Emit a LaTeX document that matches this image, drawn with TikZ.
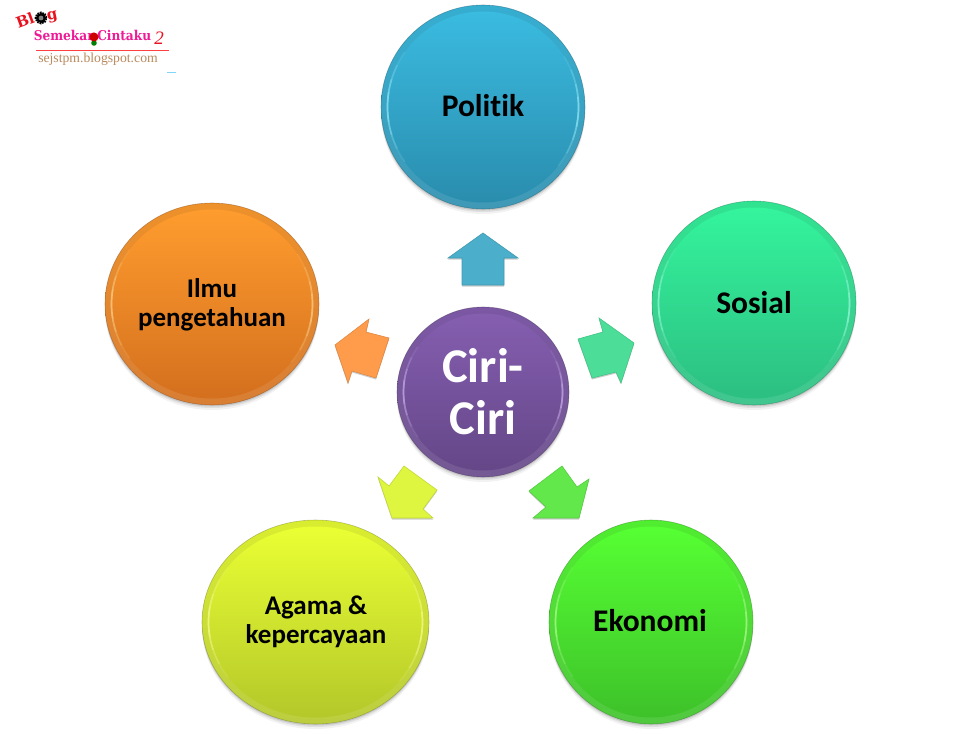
\documentclass[tikz,border=0pt]{standalone}
\usepackage{graphicx}
\usepackage{fontspec}
\setmainfont[Ligatures=NoCommon]{Carlito}
\newfontfamily\logoserif{Liberation Serif}
\newfontfamily\logobold{DejaVu Serif}
\definecolor{cBlueT}{HTML}{3ABBE0}\definecolor{cBlueB}{HTML}{2A8DAE}\definecolor{cBlueH}{HTML}{9CF2FF}\definecolor{cBlueA}{HTML}{4BAFCB}
\definecolor{cTealT}{HTML}{34F49C}\definecolor{cTealB}{HTML}{2CBF82}\definecolor{cTealH}{HTML}{A0FFE0}\definecolor{cTealA}{HTML}{4CDE98}
\definecolor{cGrnT}{HTML}{56FF33}\definecolor{cGrnB}{HTML}{3EC22A}\definecolor{cGrnH}{HTML}{B8FF98}\definecolor{cGrnA}{HTML}{62E84A}
\definecolor{cYelT}{HTML}{EAFF33}\definecolor{cYelB}{HTML}{B4C82A}\definecolor{cYelH}{HTML}{FBFF98}\definecolor{cYelA}{HTML}{DEF63F}
\definecolor{cOrT}{HTML}{FF9C2E}\definecolor{cOrB}{HTML}{D4701E}\definecolor{cOrH}{HTML}{FFD894}\definecolor{cOrA}{HTML}{FF9C4B}
\definecolor{cPuT}{HTML}{855EB0}\definecolor{cPuB}{HTML}{654788}\definecolor{cPuH}{HTML}{D0B8F4}
\definecolor{logored}{HTML}{E8121E}\definecolor{logopink}{HTML}{EE1A96}\definecolor{logotan}{HTML}{B98A5E}
\tikzset{
  labeltext/.style={font=\bfseries\fontsize{31.5}{36}\selectfont,text=black,align=center,inner sep=0pt},
  smalllabel/.style={font=\bfseries\fontsize{27}{29.5}\selectfont,text=black,align=center,inner sep=0pt},
  bigtext/.style={font=\bfseries\fontsize{48.5}{52}\selectfont,text=white,align=center,inner sep=0pt},
  blockshadow/.style={fill=black,opacity=.2},
}
% #1 cx #2 cy #3 rx #4 ry #5 colour prefix
\newcommand{\bubble}[5]{%
  \fill[black,opacity=.05] (#1,#2+5) ellipse [x radius=#3pt,y radius=#4pt];
  \fill[black,opacity=.08] (#1,#2+3) ellipse [x radius=#3pt,y radius=#4pt];
  \fill[black,opacity=.10] (#1,#2+1.5) ellipse [x radius=#3pt,y radius=#4pt];
  \shade[top color=#5T!93!black,bottom color=#5B!90!white] (#1,#2) ellipse [x radius=#3pt,y radius=#4pt];
  \draw[#5B!55!black,opacity=.4,line width=.6pt] (#1,#2) ellipse [x radius=#3pt,y radius=#4pt];
  \pgfmathsetmacro{\innerx}{#3-6.5}\pgfmathsetmacro{\innery}{#4-6.5}
  \shade[top color=#5T,bottom color=#5B] (#1,#2) ellipse [x radius=\innerx pt,y radius=\innery pt];
  \foreach \s/\o in {35/.12,26/.2,17/.28,9/.35}{
    \draw[#5H,opacity=\o,line width=1.7pt]
      ({#1+\innerx*cos(-3+\s)},{#2-\innery*sin(-3+\s)})
      arc [start angle=-3+\s,end angle=-3-\s,x radius=\innerx pt,y radius=\innery pt];
    \draw[#5H,opacity=\o,line width=1.7pt]
      ({#1+\innerx*cos(180-\s)},{#2-\innery*sin(180-\s)})
      arc [start angle=180-\s,end angle=180+\s,x radius=\innerx pt,y radius=\innery pt];
  }
}
% #1 outline coordinates, #2 colour
\newcommand{\blockarrow}[2]{%
  \begin{scope}[shift={(0,1.5)}]\fill[blockshadow] #1 -- cycle;\end{scope}
  \fill[#2,draw=#2!88!black,line width=.6pt,line join=miter] #1 -- cycle;
}
\begin{document}
\begin{tikzpicture}[x=1pt,y=-1pt]
\useasboundingbox (0,0) rectangle (960,733);
\fill[white] (0,0) rectangle (960,733);

% block arrows
\blockarrow{(483,233)--(518,258)--(504,258)--(504,285)--(462,285)--(462,258)--(448,258)}{cBlueA}
\blockarrow{(634,343)--(599,318)--(603,332)--(578,339)--(592,378)--(616,372)--(621,383)}{cTealA}
\blockarrow{(335,345)--(369,319)--(366,332)--(389,338)--(376,378)--(352,371)--(348,383)}{cOrA}
\blockarrow{(529,491)--(562,466)--(577,487)--(589,479)--(579,518)--(533,518)--(546,507)}{cGrnA}
\blockarrow{(378,477)--(389,486)--(404,466)--(437,490)--(423,509)--(433,518)--(392,518)}{cYelA}

% circles
\bubble{483}{107}{102}{102}{cBlue}
\bubble{754}{303}{102}{102}{cTeal}
\bubble{651}{622}{102}{102}{cGrn}
\bubble{315.5}{622}{113.5}{102}{cYel}
\bubble{212}{304}{107}{101}{cOr}
\bubble{483}{392}{86}{85}{cPu}

% labels
\node[labeltext] (politik) at (483,106) {Politik};
\node[labeltext] (sosial) at (754,303) {Sosial};
\node[labeltext] (ekonomi) at (650,621) {Ekonomi};
\node[smalllabel] (agama) at (316,622) {Agama \&\\kepercayaan};
\node[smalllabel] (ilmu) at (212,305) {Ilmu\\pengetahuan};
\node[bigtext] (ciri) at (483,392) {Ciri-\\Ciri};

% blog logo
\node[font=\logobold\bfseries\fontsize{15}{15}\selectfont,text=logored,rotate=20,inner sep=0pt] (logoa) at (25,20.5) {Bl};
\draw[black,line width=2.4pt,dash pattern=on 1.6pt off .9pt] (41,18) circle [radius=5.2pt];
\fill[black] (41,18) circle [radius=5pt];
\fill[gray] (41,18) circle [radius=2.4pt];
\node[font=\logobold\bfseries\fontsize{15}{15}\selectfont,text=logored,rotate=12,inner sep=0pt] (logob) at (52.5,17) {g};
\node[font=\logobold\bfseries\fontsize{13.5}{14}\selectfont,text=logopink,inner sep=0pt] (logoc) at (92.5,35) {\scalebox{.9}[1]{Semekar\hspace{4pt}Cintaku}};
\fill[green!50!black] (94,43) circle [radius=2.8pt];
\fill[red!80!black] (94,37) circle [radius=4.5pt];
\node[font=\logoserif\itshape\fontsize{19}{19}\selectfont,text=logored,inner sep=0pt] (logod) at (159,38) {2};
\draw[red!75!white,line width=.7pt] (36,50.5) -- (169,50.5);
\node[font=\logoserif\fontsize{13.7}{14}\selectfont,text=logotan,inner sep=0pt] (logoe) at (98,59.5) {sejstpm.blogspot.com};
\draw[cyan!50!white,line width=.8pt] (167,72) -- (176,72);
\end{tikzpicture}
\end{document}
